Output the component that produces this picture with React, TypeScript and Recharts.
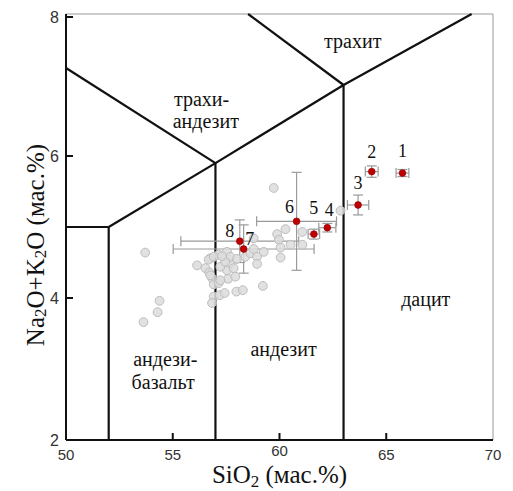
import React from 'react';
import { ScatterChart, Scatter, XAxis, YAxis, ReferenceLine, ErrorBar } from 'recharts';

// ---- data ----
const xTicks = [50, 55, 60, 65, 70];
const yTicks = [2, 4, 6, 8];

// gray background analyses (SiO2, Na2O+K2O)
const grayX = [53.71, 54.38, 54.29, 53.63, 56.14, 56.53, 56.76, 56.71, 56.84, 56.92, 56.92, 56.84, 57.15, 57.2, 57.43, 57.59, 57.54, 57.23, 57.7, 57.15, 57.54, 57.7, 58.01, 57.98, 58.28, 57.93, 57.85, 57.46, 56.68, 58.4, 58.64, 58.79, 58.95, 58.95, 59.22, 59.26, 58.79, 59.73, 60.28, 59.89, 59.97, 61.07, 60.52, 60.05, 60.05, 61.07, 62.86, 56.92, 57.31, 56.76, 57.23];
const grayY = [4.64, 3.96, 3.8, 3.66, 4.46, 4.42, 4.56, 4.36, 4.28, 4.19, 4.02, 3.93, 4.21, 4.04, 4.07, 4.27, 4.39, 4.44, 4.49, 4.61, 4.65, 4.58, 4.55, 4.09, 4.11, 4.3, 4.42, 4.51, 4.54, 4.58, 4.63, 4.69, 4.58, 4.48, 4.17, 4.65, 4.84, 5.55, 4.97, 4.9, 4.82, 4.93, 4.75, 4.71, 4.57, 4.75, 5.23, 4.58, 4.59, 4.32, 4.25];

// numbered samples
const sampleIds = ['1', '2', '3', '4', '5', '6', '7', '8'];
const sampleX = [65.76, 64.32, 63.68, 62.24, 61.61, 60.8, 58.32, 58.14];
const sampleY = [5.76, 5.78, 5.31, 4.99, 4.9, 5.08, 4.69, 4.8];
const sampleErrX = [0.3, 0.3, 0.5, 0.4, 0.27, 1.87, 3.3, 2.76];
const sampleErrY = [0.05, 0.08, 0.14, 0.06, 0.07, 0.69, 0.34, 0.3];

// TAS boundary segments
const segments: [number, number, number, number][] = [
  [52, 2, 52, 5],
  [57, 2, 57, 5.9],
  [63, 2, 63, 7],
  [50, 5, 52, 5],
  [52, 5, 57, 5.9],
  [57, 5.9, 63, 7],
  [63, 7, 69, 8],
  [50, 7.24, 57, 5.9],
  [58.53, 8, 63, 7],
];

// field names
const fieldNames = ['трахит', 'трахи-', 'андезит', 'дацит', 'андезит', 'андези-', 'базальт'];
const fieldX = [63.43, 56.35, 56.55, 66.85, 60.19, 54.65, 54.55];
const fieldY = [7.61, 6.79, 6.48, 3.97, 3.27, 3.13, 2.8];

// ---- derived tables ----
const grayData = grayX.map((x, i) => ({ x, y: grayY[i] }));
const sampleData = sampleIds.map((id, i) => ({ id, x: sampleX[i], y: sampleY[i], ex: sampleErrX[i], ey: sampleErrY[i] }));
const fieldData = fieldNames.map((name, i) => ({ name, x: fieldX[i], y: fieldY[i] }));

// label offsets (px) for sample numbers
const labelOffsets: Record<string, [number, number]> = {
  '1': [0, -22], '2': [0, -20], '3': [0, -22], '4': [2, -18],
  '5': [0, -26], '6': [-7, -14], '7': [6, -10], '8': [-10, -10],
};

const serif = '"Liberation Serif", "DejaVu Serif", serif';
const sans = '"Liberation Sans", Arial, sans-serif';

const XTick = (props: any) => {
  const { x, y, payload } = props;
  const v = payload.value;
  const axisY = y - 8;
  const lift = v === 60 ? -4 : 0;
  return (
    <g>
      {v !== 50 && v !== 70 && <line x1={x} x2={x} y1={axisY} y2={axisY - 7} stroke="#111" strokeWidth={2} />}
      <text x={x} y={y + lift} dy="0.8em" textAnchor="middle" fontFamily={sans} fontSize={15} fill="#333">{v}</text>
    </g>
  );
};

const YTick = (props: any) => {
  const { x, y, payload } = props;
  const v = payload.value;
  const axisX = x + 7;
  return (
    <g>
      {v !== 2 && <line x1={axisX} x2={axisX + 7} y1={y} y2={y} stroke="#111" strokeWidth={2} />}
      <text x={x} y={y} dy="0.36em" textAnchor="end" fontFamily={sans} fontSize={16} fill="#333">{v}</text>
    </g>
  );
};

const GrayDot = (p: any) => (
  <circle cx={p.cx} cy={p.cy} r={4.4} fill="#dcdcdc" fillOpacity={0.85} stroke="#bdbdbd" strokeWidth={1} />
);

const RedDot = (p: any) => (
  <circle cx={p.cx} cy={p.cy} r={3.4} fill="#c00000" stroke="#8b0000" strokeWidth={0.6} />
);

const NumLabel = (p: any) => {
  const id = p.payload?.id;
  const off = labelOffsets[id] || [0, -15];
  return (
    <text x={p.cx + off[0]} y={p.cy + off[1] + 6} textAnchor="middle" fontFamily={serif} fontSize={18} fill="#111">{id}</text>
  );
};

const FieldLabel = (p: any) => (
  <text x={p.cx} y={p.cy + 6} textAnchor="middle" fontFamily={serif} fontSize={20} fill="#111">{p.payload?.name}</text>
);

const XTitle = (props: any) => {
  const vb = props.viewBox;
  const cx = vb.x + vb.width / 2;
  const by = vb.y + 43;
  return (
    <text x={cx} y={by} textAnchor="middle" fontFamily={serif} fontSize={25} fill="#111">
      SiO<tspan fontSize={17} dy={4}>2</tspan><tspan dy={-4}> (мас.%)</tspan>
    </text>
  );
};

const YTitle = () => {
  const cx = 27;
  const cy = 237;
  return (
    <text x={cx} y={cy} transform={`rotate(-90 ${cx} ${cy})`} textAnchor="middle" dominantBaseline="central" fontFamily={serif} fontSize={25} fill="#111">
      Na<tspan fontSize={17} dy={5}>2</tspan><tspan dy={-5}>O+K</tspan><tspan fontSize={17} dy={5}>2</tspan><tspan dy={-5}>O (мас.%)</tspan>
    </text>
  );
};

export default function App() {
  return (
    <ScatterChart width={505} height={483} margin={{ top: 6, right: 20, bottom: 0, left: 0 }}>
      <XAxis
        dataKey="x"
        type="number"
        domain={[50, 70]}
        ticks={xTicks}
        allowDataOverflow
        tickSize={0}
        tickMargin={8}
        tick={<XTick />}
        axisLine={{ stroke: '#111', strokeWidth: 2 }}
        height={51}
        label={{ content: <XTitle /> }}
      />
      <YAxis
        dataKey="y"
        type="number"
        domain={[2, 8]}
        ticks={yTicks}
        allowDataOverflow
        tickSize={0}
        tickMargin={7}
        tick={<YTick />}
        axisLine={{ stroke: '#111', strokeWidth: 2 }}
        width={58}
        label={{ content: <YTitle /> }}
      />
      <ReferenceLine y={8} stroke="#bbbbbb" strokeWidth={1.5} />
      <ReferenceLine x={70} stroke="#bbbbbb" strokeWidth={1.5} />
      <Scatter data={grayData} shape={<GrayDot />} isAnimationActive={false} />
      {segments.map((s, i) => (
        <ReferenceLine
          key={i}
          segment={[{ x: s[0], y: s[1] }, { x: s[2], y: s[3] }]}
          stroke="#111"
          strokeWidth={2.2}
        />
      ))}
      <Scatter data={sampleData} shape={<RedDot />} isAnimationActive={false}>
        <ErrorBar dataKey="ex" direction="x" width={5} stroke="#9a9a9a" strokeWidth={1.2} />
        <ErrorBar dataKey="ey" direction="y" width={5} stroke="#9a9a9a" strokeWidth={1.2} />
      </Scatter>
      <Scatter data={sampleData} shape={<NumLabel />} isAnimationActive={false} />
      <Scatter data={fieldData} shape={<FieldLabel />} isAnimationActive={false} />
    </ScatterChart>
  );
}
